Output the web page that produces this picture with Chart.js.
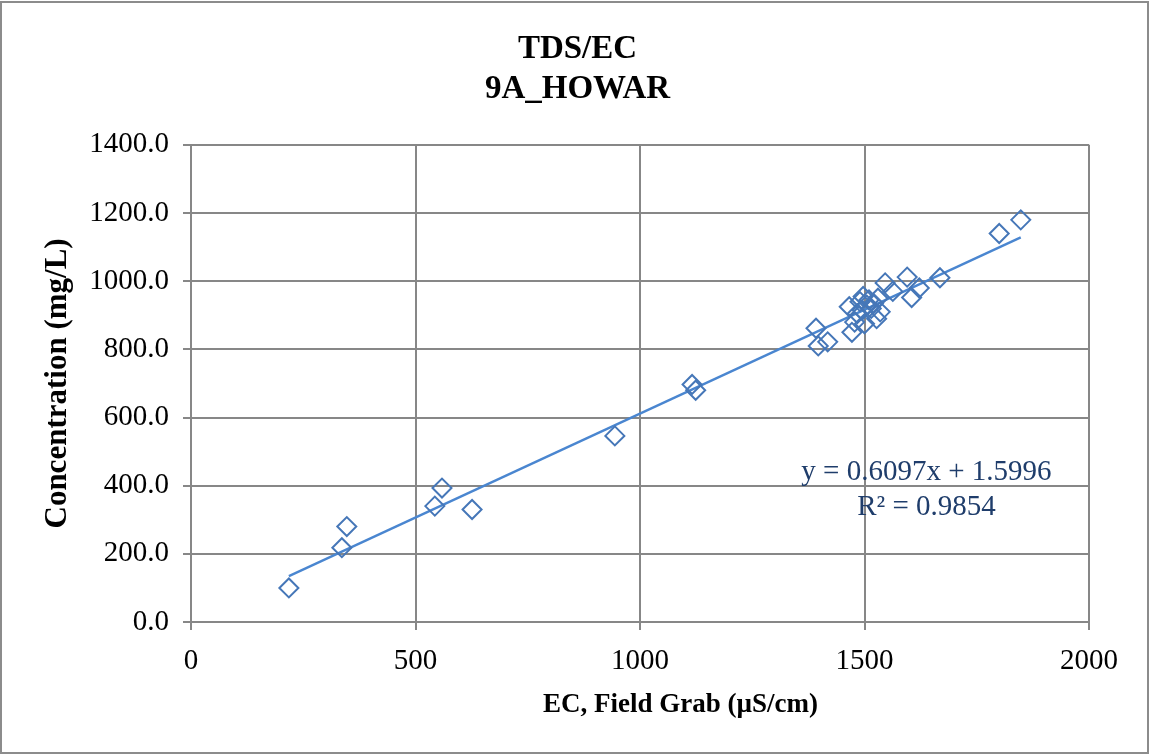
<!DOCTYPE html>
<html>
<head>
<meta charset="utf-8">
<script src="https://cdn.jsdelivr.net/npm/chart.js@4.4.1/dist/chart.umd.min.js"></script>
<style>
html,body{margin:0;padding:0;background:#fff;}
#wrap{position:relative;width:1150px;height:755px;}
</style>
</head>
<body>
<div id="wrap"><canvas id="c" width="1150" height="755"></canvas></div>
<script>
// Data
const ecValues = [218, 336, 347, 543, 559, 626, 944, 1116, 1124, 1392, 1397, 1418,
  1466, 1472, 1478, 1484, 1490, 1495, 1497, 1500, 1505, 1510, 1515, 1520, 1527, 1530,
  1535, 1546, 1563, 1595, 1605, 1622, 1668, 1800, 1848];
const tdsValues = [100, 218, 280, 340, 393, 330, 546, 697, 680, 862, 810, 822,
  925, 850, 880, 905, 940, 915, 955, 875, 930, 945, 920, 935, 890, 950,
  910, 995, 970, 1012, 952, 980, 1010, 1140, 1180];
const trendSlope = 0.6097;
const trendIntercept = 1.5996;
const trendRange = [218, 1848];
const equationLines = ['y = 0.6097x + 1.5996', 'R\u00B2 = 0.9854'];
const chartTitle = ['TDS/EC', '9A_HOWAR'];
const xTitle = 'EC, Field Grab (\u00B5S/cm)';
const yTitle = 'Concentration (mg/L)';

const points = ecValues.map((x, i) => ({x: x, y: tdsValues[i]}));
const trend = trendRange.map(x => ({x: x, y: trendSlope * x + trendIntercept}));

const SERIF = '"Liberation Serif", "DejaVu Serif", serif';
const gridColor = '#878787';
const EN = '\u2002';

const borderPlugin = {
  id: 'outerBorder',
  beforeDraw(chart) {
    const ctx = chart.ctx;
    ctx.save();
    ctx.fillStyle = '#fff';
    ctx.fillRect(0, 0, chart.width, chart.height);
    ctx.strokeStyle = '#8c8c8c';
    ctx.lineWidth = 2;
    ctx.strokeRect(1, 2, chart.width - 3, chart.height - 4);
    ctx.restore();
  }
};

const eqPlugin = {
  id: 'equation',
  afterDatasetsDraw(chart) {
    const ctx = chart.ctx;
    const xs = chart.scales.x, ys = chart.scales.y;
    const cx = xs.getPixelForValue(1638);
    const y1 = ys.getPixelForValue(438);
    const y2 = ys.getPixelForValue(336);
    ctx.save();
    ctx.fillStyle = '#1f3d6b';
    ctx.font = '29px ' + SERIF;
    ctx.textAlign = 'center';
    ctx.textBaseline = 'middle';
    ctx.fillText(equationLines[0], cx, y1);
    ctx.fillText(equationLines[1], cx, y2);
    ctx.restore();
  }
};

new Chart(document.getElementById('c'), {
  type: 'scatter',
  data: {
    datasets: [
      {
        label: 'TDS',
        data: points,
        pointStyle: 'rectRot',
        pointRadius: 9.5,
        pointHoverRadius: 9.5,
        pointBorderWidth: 2,
        pointBorderColor: '#4677b8',
        pointBackgroundColor: 'rgba(255,255,255,0)',
        showLine: false,
        order: 1
      },
      {
        label: 'Linear',
        data: trend,
        showLine: true,
        pointRadius: 0,
        borderColor: '#4a86d0',
        borderWidth: 2.4,
        fill: false,
        order: 2
      }
    ]
  },
  options: {
    responsive: false,
    animation: false,
    devicePixelRatio: 1,
    layout: {padding: {left: 0, right: 61, top: 0, bottom: 0}},
    plugins: {
      legend: {display: false},
      tooltip: {enabled: false},
      title: {
        display: true,
        text: chartTitle.map(t => EN + EN + EN + EN + t),
        color: '#000',
        font: {family: SERIF, size: 33, weight: 'bold', lineHeight: 1.21},
        padding: {top: 30, bottom: 35}
      }
    },
    scales: {
      x: {
        type: 'linear',
        min: 0, max: 2000,
        ticks: {stepSize: 500, color: '#000', font: {family: SERIF, size: 29}, padding: 14, maxRotation: 0,
          callback: v => String(v)},
        grid: {color: gridColor, lineWidth: 2, tickLength: 8, drawTicks: true},
        border: {color: gridColor, width: 2},
        title: {display: true, text: EN + EN + EN + EN + EN + EN + xTitle, color: '#000',
          font: {family: SERIF, size: 27, weight: 'bold', lineHeight: 1.2}, padding: {top: 0, bottom: 34}},
        afterFit(scale) { scale.height = 133; }
      },
      y: {
        type: 'linear',
        min: 0, max: 1400,
        ticks: {stepSize: 200, color: '#000', font: {family: SERIF, size: 29}, padding: 14,
          callback: v => v.toFixed(1)},
        grid: {color: gridColor, lineWidth: 2, tickLength: 8, drawTicks: true},
        border: {color: gridColor, width: 2},
        title: {display: true, text: yTitle, color: '#000',
          font: {family: SERIF, size: 31, weight: 'bold', lineHeight: 1.2}, padding: {top: 39, bottom: 0}},
        afterFit(scale) { scale.width = 191; }
      }
    }
  },
  plugins: [borderPlugin, eqPlugin]
});
</script>
</body>
</html>
